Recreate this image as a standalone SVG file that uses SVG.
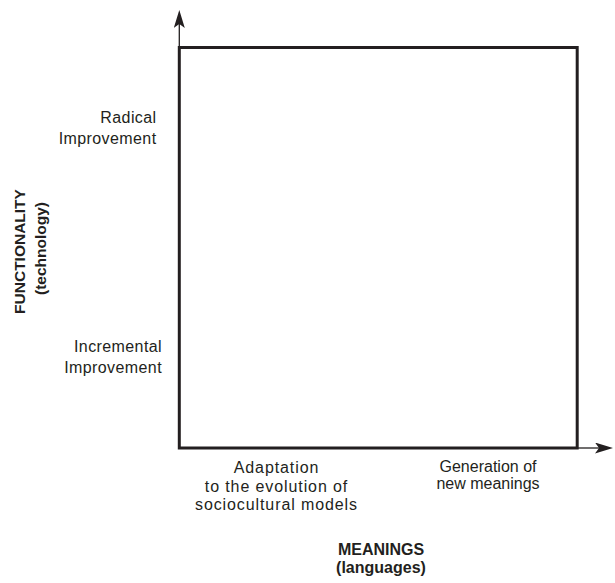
<svg xmlns="http://www.w3.org/2000/svg" width="615" height="583" viewBox="0 0 615 583">
  <style>
    .frame { fill: none; stroke: #231f20; stroke-width: 3; }
    .axis { fill: none; stroke: #231f20; stroke-width: 1.3; }
    .lbl { font-family: "Liberation Sans", Arial, sans-serif; font-size: 16px; fill: #231f20; }
    .side { letter-spacing: 0.4px; text-anchor: end; }
    .wide { letter-spacing: 0.9px; text-anchor: middle; }
    .mid { text-anchor: middle; }
    .title { font-family: "Liberation Sans", Arial, sans-serif; font-weight: bold; fill: #231f20; text-anchor: middle; }
  </style>
  <defs>
    <marker id="arrow" viewBox="0 0 18 11" refX="4" refY="5.5" markerWidth="18" markerHeight="11" markerUnits="userSpaceOnUse" orient="auto">
      <path d="M0,0 L18,5.5 L0,11 L4,5.5 Z" fill="#231f20"/>
    </marker>
  </defs>
  <rect width="615" height="583" fill="#ffffff"/>

  <g id="connectors">
    <line class="axis" x1="179.3" y1="47.5" x2="179.3" y2="24" marker-end="url(#arrow)"/>
    <line class="axis" x1="577" y1="448" x2="599" y2="448" marker-end="url(#arrow)"/>
  </g>

  <g id="matrix">
    <rect class="frame" x="179.3" y="47.5" width="397.9" height="400.5"/>
  </g>

  <g id="y-high">
    <text class="lbl side" x="156.5" y="123.3">Radical</text>
    <text class="lbl side" x="156.5" y="143.5">Improvement</text>
  </g>
  <g id="y-low">
    <text class="lbl side" x="162" y="351.7">Incremental</text>
    <text class="lbl side" x="162" y="372.5">Improvement</text>
  </g>
  <g id="y-title">
    <text class="title" font-size="15.5" transform="translate(25,251.5) rotate(-90)">FUNCTIONALITY</text>
    <text class="title" font-size="15.5" transform="translate(46,248.5) rotate(-90)">(technology)</text>
  </g>

  <g id="x-low">
    <text class="lbl wide" x="276.5" y="473">Adaptation</text>
    <text class="lbl wide" x="276.5" y="491.5">to the evolution of</text>
    <text class="lbl wide" x="276.5" y="510">sociocultural models</text>
  </g>
  <g id="x-high">
    <text class="lbl mid" x="488" y="472">Generation of</text>
    <text class="lbl mid" x="488" y="489">new meanings</text>
  </g>
  <g id="x-title">
    <text class="title" font-size="16" x="381" y="555">MEANINGS</text>
    <text class="title" font-size="16" x="381" y="573">(languages)</text>
  </g>
</svg>
